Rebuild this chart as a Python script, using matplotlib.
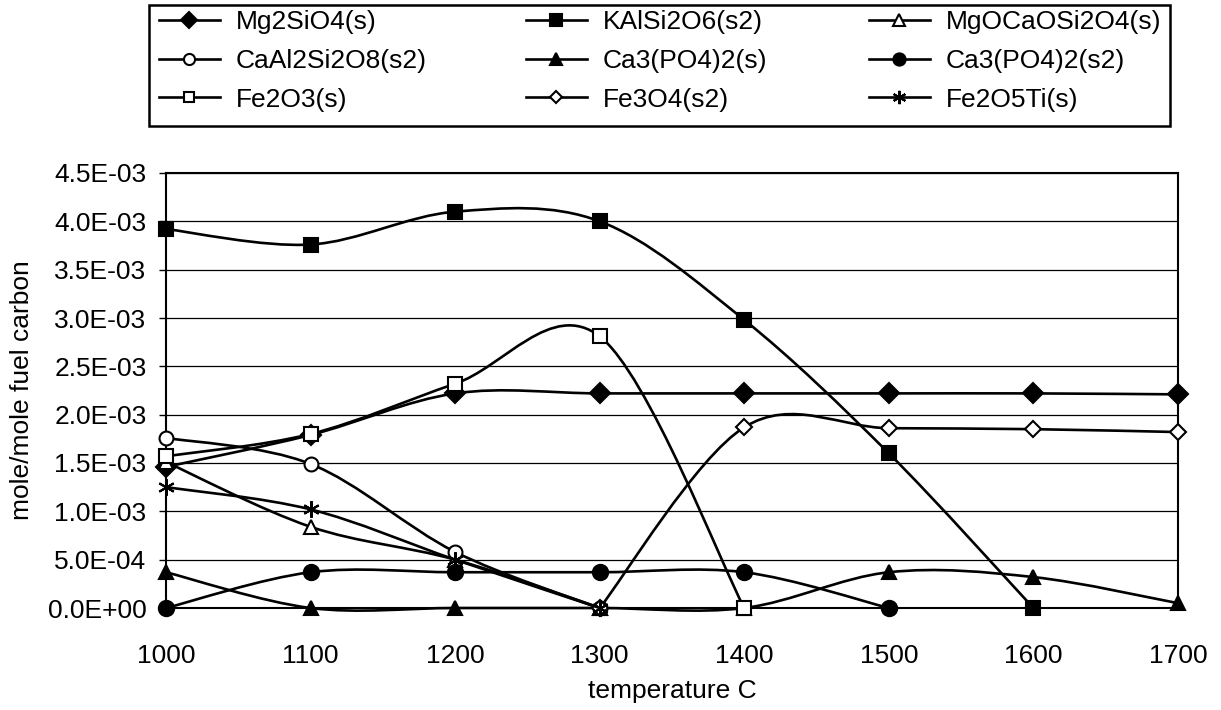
import numpy as np
import matplotlib
matplotlib.use("Agg")
import matplotlib.pyplot as plt
from matplotlib.path import Path
from matplotlib.patches import PathPatch, Rectangle
from matplotlib.lines import Line2D
from matplotlib.ticker import FuncFormatter, MultipleLocator

plt.rcParams['font.family'] = ['Liberation Sans', 'DejaVu Sans']

# data (mole / mole fuel carbon)
temps = [1000, 1100, 1200, 1300, 1400, 1500, 1600, 1700]
mg2sio4 = [1.46e-3, 1.79e-3, 2.22e-3, 2.22e-3, 2.22e-3, 2.22e-3, 2.22e-3, 2.21e-3]
kalsi2o6 = [3.92e-3, 3.76e-3, 4.10e-3, 4.00e-3, 2.98e-3, 1.60e-3, 0.0, None]
mgocaosi2o4 = [1.51e-3, 0.84e-3, 0.50e-3, 0.0, None, None, None, None]
caal2si2o8 = [1.76e-3, 1.49e-3, 0.58e-3, 0.0, None, None, None, None]
ca3po42_s = [0.37e-3, 0.0, 0.0, 0.0, 0.0, 0.37e-3, 0.32e-3, 0.05e-3]
ca3po42_s2 = [0.0, 0.37e-3, 0.37e-3, 0.37e-3, 0.37e-3, 0.0, None, None]
fe2o3 = [1.57e-3, 1.80e-3, 2.32e-3, 2.81e-3, 0.0, None, None, None]
fe3o4 = [None, None, None, 0.0, 1.87e-3, 1.86e-3, 1.85e-3, 1.82e-3]
fe2o5ti = [1.25e-3, 1.02e-3, 0.50e-3, 0.0, None, None, None, None]

series = [
    ("Mg2SiO4(s)", mg2sio4, "D", "black", 10),
    ("KAlSi2O6(s2)", kalsi2o6, "s", "black", 10.5),
    ("MgOCaOSi2O4(s)", mgocaosi2o4, "^", "white", 10),
    ("CaAl2Si2O8(s2)", caal2si2o8, "o", "white", 10),
    ("Ca3(PO4)2(s)", ca3po42_s, "^", "black", 10.5),
    ("Ca3(PO4)2(s2)", ca3po42_s2, "o", "black", 11),
    ("Fe2O3(s)", fe2o3, "s", "white", 9.5),
    ("Fe3O4(s2)", fe3o4, "D", "white", 8),
    ("Fe2O5Ti(s)", fe2o5ti, (6, 2, 0), "black", 12),
]


def smooth_path(x, y):
    # Excel-like smoothed line: cubic Bezier through the points
    pts = np.column_stack([x, y]).astype(float)
    n = len(pts)
    verts = [pts[0]]
    codes = [Path.MOVETO]
    for i in range(n - 1):
        p0 = pts[max(i - 1, 0)]
        p1 = pts[i]
        p2 = pts[i + 1]
        p3 = pts[min(i + 2, n - 1)]
        verts += [p1 + (p2 - p0) / 6, p2 - (p3 - p1) / 6, p2]
        codes += [Path.CURVE4] * 3
    return Path(verts, codes)


W, H = 1221, 710
fig = plt.figure(figsize=(W / 100, H / 100), dpi=100)
ax = fig.add_axes([166 / W, 1 - 608 / H, (1178 - 166) / W, (608 - 173) / H])

handles = []
for k, (name, vals, mk, fc, ms) in enumerate(series):
    x = [t for t, v in zip(temps, vals) if v is not None]
    y = [v for v in vals if v is not None]
    z = 3 + k
    ax.add_patch(PathPatch(smooth_path(x, y), facecolor='none', edgecolor='black',
                           lw=1.9, zorder=z, clip_on=False))
    ax.plot(x, y, linestyle='none', marker=mk, markersize=ms, markerfacecolor=fc,
            markeredgecolor='black', markeredgewidth=1.5, zorder=z + 0.5, clip_on=False)
    handles.append(Line2D([], [], color='black', lw=1.9, marker=mk, markersize=ms * 0.8,
                          markerfacecolor=fc, markeredgecolor='black',
                          markeredgewidth=1.5, label=name))

ax.set_xlim(1000, 1700)
ax.set_ylim(0, 4.5e-3)
ax.xaxis.set_major_locator(MultipleLocator(100))
ax.yaxis.set_major_locator(MultipleLocator(5e-4))
ax.yaxis.set_major_formatter(FuncFormatter(lambda v, p: f"{v:.1E}"))
ax.grid(axis='y', color='black', lw=0.9)
ax.set_axisbelow(True)
for s in ax.spines.values():
    s.set_linewidth(1.5)
    s.set_color('black')
ax.tick_params(axis='x', length=0, pad=26, labelsize=19)
ax.tick_params(axis='y', length=5, width=1, direction='out', pad=9, labelsize=19)
ax.set_xlabel("temperature C", fontsize=19, labelpad=8)
ax.set_ylabel("mole/mole fuel carbon", fontsize=19, labelpad=10)

# legend: three columns of equal width inside one black box
fig.add_artist(Rectangle((149 / W, 1 - 126 / H), (1170 - 149) / W, 121 / H,
                         transform=fig.transFigure, facecolor='white',
                         edgecolor='black', lw=1.8))
col_x = [159, 526, 869]
for c in range(3):
    fig.legend(handles=handles[c::3], loc='upper left',
               bbox_to_anchor=(col_x[c] / W, 1 - 10 / H),
               fontsize=19, frameon=False, handlelength=2.3, handletextpad=0.6,
               labelspacing=0.56, borderpad=0, borderaxespad=0)

fig.savefig("out.png", dpi=100)
